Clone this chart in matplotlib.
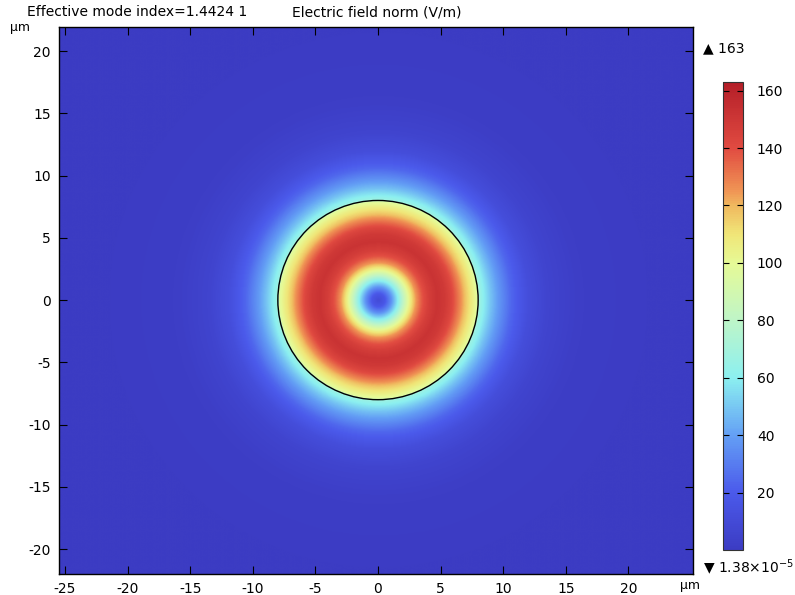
import matplotlib
matplotlib.use("Agg")
import numpy as np
import matplotlib.pyplot as plt
from matplotlib.colors import LinearSegmentedColormap
from matplotlib.patches import Circle

# radial profile of the field norm (r in um, |E| in V/m)
# the norm jumps at the core boundary (r = 8 um)
r_pts = [0.0, 0.5, 1.0, 1.5, 2.0, 2.5, 3.0, 3.5, 4.0, 4.7, 5.3,
         5.8, 6.2, 6.6, 7.0, 7.5, 7.95, 8.0, 8.5, 9.0, 9.6, 10.6, 12.0,
         13.5, 16.0, 22.0, 40.0]
e_pts = [10, 18, 35, 58, 82, 105, 125, 138, 146, 152, 149,
         143, 135, 126, 116, 106, 96, 68, 58, 48, 38, 24, 12,
         6, 2, 0.5, 1.38e-5]
e_min = 1.38e-5
e_max = 163
core_radius = 8.0
cbar_ticks = [20, 40, 60, 80, 100, 120, 140, 160]
x_ticks = [-25, -20, -15, -10, -5, 0, 5, 10, 15, 20]
y_ticks = [-20, -15, -10, -5, 0, 5, 10, 15, 20]

rainbow = LinearSegmentedColormap.from_list("comsol_rainbow", [
    (0.000, "#3c3cc3"), (0.123, "#4b5aeb"), (0.245, "#64a0f5"),
    (0.368, "#8cf0f0"), (0.490, "#bef5c8"), (0.613, "#e6fa96"),
    (0.675, "#f0e678"), (0.736, "#f0b95f"), (0.767, "#f09655"),
    (0.859, "#e14b41"), (1.000, "#b41e28")])

plt.rcParams['font.family'] = 'DejaVu Sans'
plt.rcParams['font.size'] = 10
plt.rcParams['axes.unicode_minus'] = False

fig = plt.figure(figsize=(7.95, 5.95), dpi=100)
ax = fig.add_axes([0.0742, 0.0353, 0.7975, 0.9193])

xs = np.linspace(-26, 26, 700)
ys = np.linspace(-23, 23, 620)
X, Y = np.meshgrid(xs, ys)
E = np.interp(np.hypot(X, Y), r_pts, e_pts)
im = ax.imshow(E, extent=[xs[0], xs[-1], ys[0], ys[-1]], origin='lower',
               cmap=rainbow, vmin=e_min, vmax=e_max, interpolation='bilinear',
               aspect='auto')
ax.add_patch(Circle((0, 0), core_radius, fill=False, ec='black', lw=1.0))

ax.set_xlim(-25.48, 25.16)
ax.set_ylim(-22.0, 21.93)
ax.set_xticks(x_ticks)
ax.set_yticks(y_ticks)
ax.tick_params(direction='in', top=True, right=True, length=6, width=0.8,
               labelsize=10, pad=6)
for s in ax.spines.values():
    s.set_linewidth(1.0)

fig.text(27/795, 1-12/595, "Effective mode index=1.4424 1", va='center', ha='left', fontsize=10)
fig.text(292/795, 1-12/595, "Electric field norm (V/m)", va='center', ha='left', fontsize=10)
fig.text(10/795, 1-28/595, "\u00b5m", va='center', ha='left', fontsize=9)
fig.text(680/795, 1-585/595, "\u00b5m", va='center', ha='left', fontsize=9)

cax = fig.add_axes([0.9094, 0.0756, 0.0252, 0.7866])
cb = fig.colorbar(im, cax=cax, ticks=cbar_ticks)
cb.outline.set_edgecolor('#333333')
cax.tick_params(direction='in', left=True, right=True, length=4, width=0.8,
                labelsize=10, pad=10)
fig.text(703/795, 1-48/595, "\u25b2 163", va='center', ha='left', fontsize=10)
fig.text(703/795, 1-568/595, "\u25bc 1.38\u00d710$^{-5}$", va='center', ha='left', fontsize=10)

fig.savefig("out.png", dpi=100)
